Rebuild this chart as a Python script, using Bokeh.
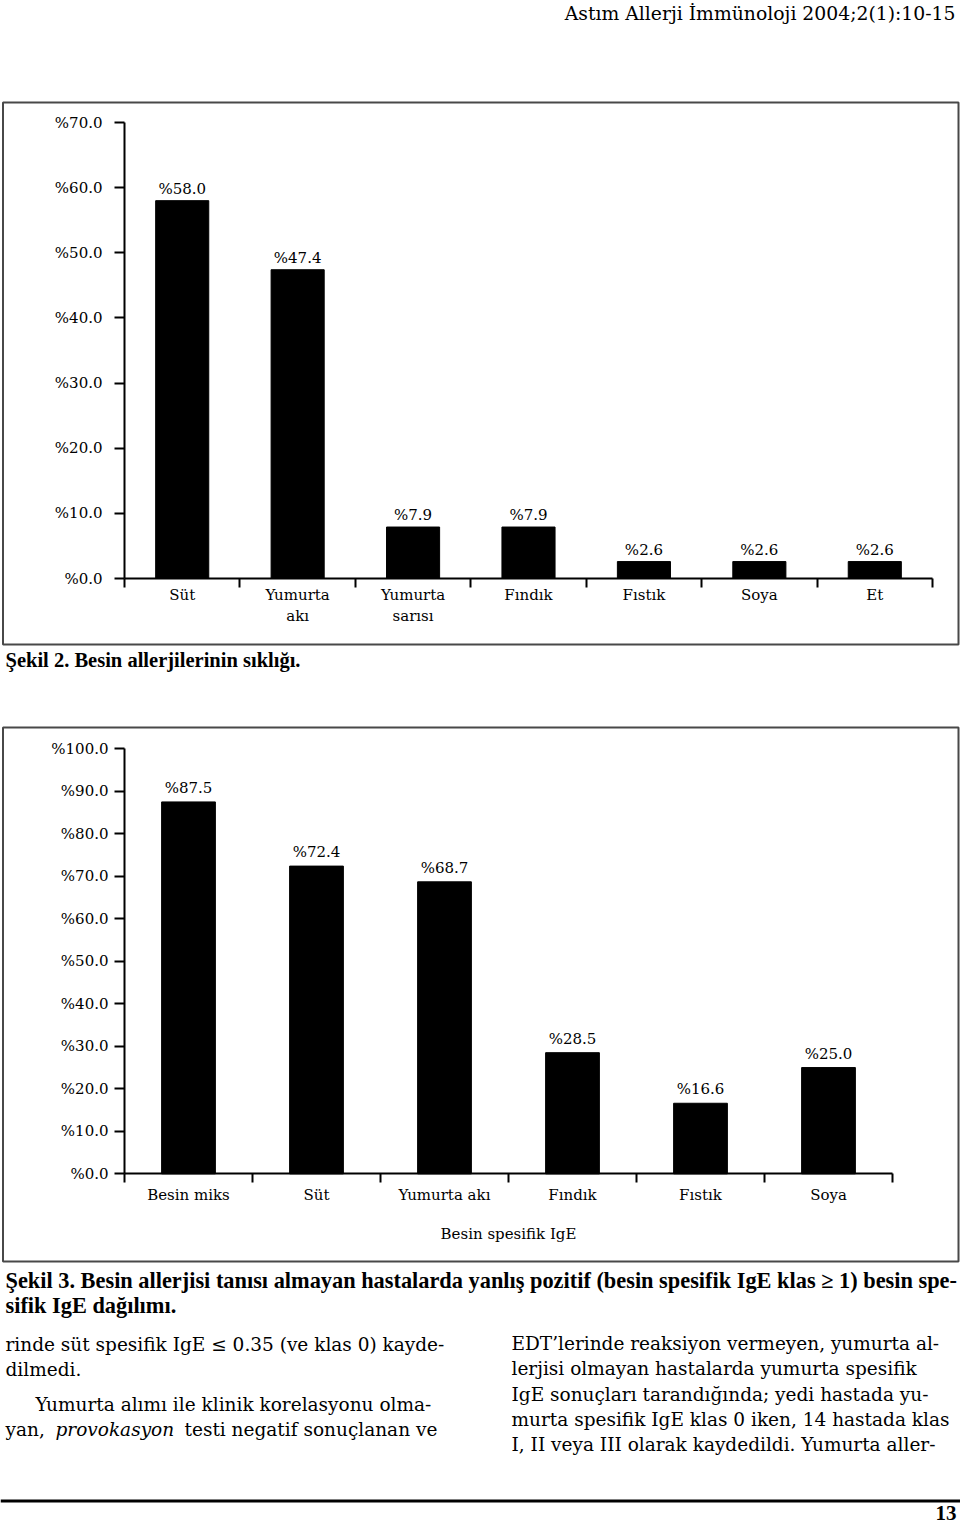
from bokeh.plotting import figure
from bokeh.models import Range1d, LinearAxis, FixedTicker, PrintfTickFormatter, ColumnDataSource
from bokeh.core.properties import value
from bokeh.embed import file_html
from bokeh.resources import INLINE

# ---------------- data ----------------
cats1 = ["Süt", "Yumurta\nakı", "Yumurta\nsarısı", "Fındık", "Fıstık", "Soya", "Et"]
vals1 = [58.0, 47.4, 7.9, 7.9, 2.6, 2.6, 2.6]
yticks1 = [0, 10, 20, 30, 40, 50, 60, 70]

cats2 = ["Besin miks", "Süt", "Yumurta akı", "Fındık", "Fıstık", "Soya"]
vals2 = [87.5, 72.4, 68.7, 28.5, 16.6, 25.0]
yticks2 = [0, 10, 20, 30, 40, 50, 60, 70, 80, 90, 100]
xtitle2 = "Besin spesifik IgE"

header_text = "Astım Allerji İmmünoloji 2004;2(1):10-15"
caption2 = "Şekil 2. Besin allerjilerinin sıklığı."
caption3 = ["Şekil 3. Besin allerjisi tanısı almayan hastalarda yanlış pozitif (besin spesifik IgE klas ≥ 1) besin spe-",
            "sifik IgE dağılımı."]
body_left = ["rinde süt spesifik IgE ≤ 0.35 (ve klas 0) kayde-",
             "dilmedi.",
             "Yumurta alımı ile klinik korelasyonu olma-"]
body_left_last = ["yan,", "provokasyon", "testi negatif sonuçlanan ve"]
body_right = ["EDT’lerinde reaksiyon vermeyen, yumurta al-",
              "lerjisi olmayan hastalarda yumurta spesifik",
              "IgE sonuçları tarandığında; yedi hastada yu-",
              "murta spesifik IgE klas 0 iken, 14 hastada klas",
              "I, II veya III olarak kaydedildi. Yumurta aller-"]
page_number = "13"

# ---------------- layout (page pixels) ----------------
W, H = 960, 1527
SERIF = value("DejaVu Serif")
BOLD = value("Liberation Serif")

p = figure(width=W, height=H, x_range=Range1d(0, W), y_range=Range1d(H, 0),
           output_backend="svg", toolbar_location=None, min_border=0,
           x_axis_type=None, y_axis_type=None)
p.outline_line_color = None
p.background_fill_color = "white"
p.border_fill_color = "white"


def fit(d0, d1, p0, p1, f0, f1):
    k = (d1 - d0) / (p1 - p0)
    return Range1d(start=d0 + (f0 - p0) * k, end=d0 + (f1 - p0) * k)


def chart(name, cats, vals, yticks, px0, px1, py0, py1, bar_w, lab_off,
          x_standoff, y_standoff, xtitle=None, title_standoff=0):
    n = len(cats)
    xr, yr = name + "x", name + "y"
    p.extra_x_ranges[xr] = fit(0, n, px0, px1, 0, W)
    p.extra_y_ranges[yr] = fit(0, yticks[-1], py0, py1, H, 0)
    centers = [i + 0.5 for i in range(n)]
    src = ColumnDataSource(dict(x=centers, top=vals, label=[f"%{v:.1f}" for v in vals]))
    p.vbar(x="x", top="top", bottom=0, width=bar_w, source=src,
           x_range_name=xr, y_range_name=yr, fill_color="black", line_color="black")
    p.text(x="x", y="top", text="label", source=src, x_range_name=xr, y_range_name=yr,
           text_align="center", text_baseline="middle", y_offset=lab_off,
           text_font=SERIF, text_font_size="15px", text_color="black")
    xa = LinearAxis(x_range_name=xr, y_range_name=yr, fixed_location=0, bounds=(0, n),
                    ticker=FixedTicker(ticks=centers, minor_ticks=list(range(n + 1))),
                    major_label_overrides={c: lab for c, lab in zip(centers, cats)},
                    major_tick_out=0, major_tick_in=0, major_tick_line_color=None,
                    minor_tick_out=9, minor_tick_in=0, minor_tick_line_width=2,
                    minor_tick_line_color="black",
                    axis_line_width=2, axis_line_color="black",
                    major_label_standoff=x_standoff,
                    major_label_text_font="DejaVu Serif", major_label_text_font_size="15px",
                    major_label_text_color="black")
    if xtitle:
        xa.axis_label = xtitle
        xa.axis_label_text_font = "DejaVu Serif"
        xa.axis_label_text_font_size = "15px"
        xa.axis_label_text_font_style = "normal"
        xa.axis_label_text_color = "black"
        xa.axis_label_standoff = title_standoff
    p.add_layout(xa, "below")
    ya = LinearAxis(x_range_name=xr, y_range_name=yr, fixed_location=0, bounds=(0, yticks[-1]),
                    ticker=FixedTicker(ticks=yticks), formatter=PrintfTickFormatter(format="%%%.1f"),
                    major_tick_out=10, major_tick_in=0, major_tick_line_width=2,
                    major_tick_line_color="black", minor_tick_out=0, minor_tick_in=0,
                    axis_line_width=2, axis_line_color="black",
                    major_label_standoff=y_standoff,
                    major_label_text_font="DejaVu Serif", major_label_text_font_size="15px",
                    major_label_text_color="black")
    p.add_layout(ya, "left")


# frame boxes around figures
p.quad(left=[2.5, 2.5], right=[958, 958], top=[102, 727], bottom=[644, 1261],
       fill_color=None, line_color="#484848", line_width=2)

chart("c1", cats1, vals1, yticks1, 124, 932, 578, 122, 0.46, -12, -2, 12)
chart("c2", cats2, vals2, yticks2, 124, 892, 1173.3, 748.3, 0.42, -14, 3, 6,
      xtitle=xtitle2, title_standoff=18)


def txt(x, y, t, font=SERIF, size="18.5px", style="normal", align="left"):
    p.text(x=x, y=y, text=t, text_align=align, text_baseline="middle", text_font=font,
           text_font_style=style, text_font_size=size, text_color="black")


# header
txt([955], [12.5], [header_text], size="18.8px", align="right")

# captions
txt([5], [659], [caption2], font=BOLD, size="20.5px", style="bold")
txt([5, 5], [1280, 1305], caption3, font=BOLD, size="22.35px", style="bold")

# body text
txt([5, 5, 35], [1343.5, 1368.5, 1403.5], body_left)
txt([5], [1428.5], [body_left_last[0]])
txt([55], [1428.5], [body_left_last[1]], style="italic")
txt([184], [1428.5], [body_left_last[2]])
txt([511] * 5, [1342.5, 1368, 1393.5, 1418.5, 1444], body_right)

# footer
p.quad(left=[0], right=[W], top=[1499], bottom=[1502], fill_color="black", line_color=None)
txt([956], [1512], [page_number], font=BOLD, size="21px", style="bold", align="right")

open("out.html", "w").write(file_html(p, INLINE))
